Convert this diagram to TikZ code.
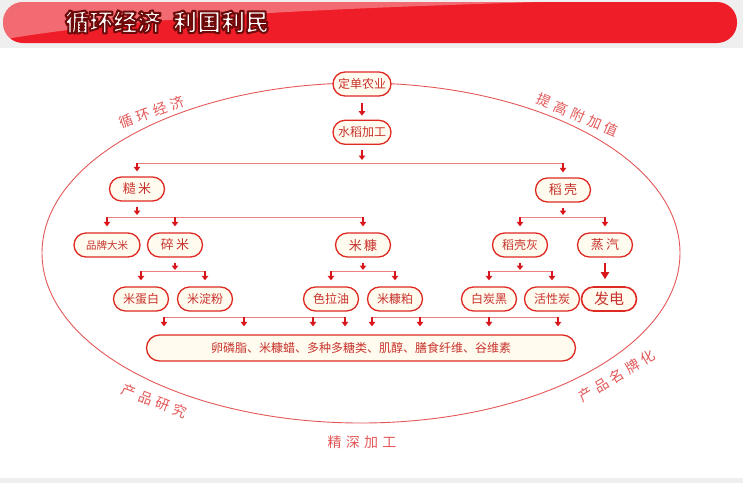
\documentclass[tikz,border=0pt]{standalone}
\usepackage{fontspec}
\setmainfont{Noto Sans CJK SC}
\newfontfamily\spaced[LetterSpace=30]{Noto Sans CJK SC}
\usetikzlibrary{arrows.meta,positioning,calc}

\definecolor{boxred}{HTML}{DE2A22}
\definecolor{textred}{HTML}{C8322C}
\definecolor{cream}{HTML}{FFFCEF}
\definecolor{arrowred}{HTML}{D8161C}
\definecolor{busred}{HTML}{EE8080}
\definecolor{ringred}{HTML}{E45858}
\definecolor{barred}{HTML}{EE1D27}
\definecolor{bandgray}{HTML}{EFEFEF}

% white letters with a dark red rim
\newcommand{\rimtext}[1]{\special{pdf:literal direct 2 Tr 2 w 1 j 0.43 0.04 0.04 RG}#1\special{pdf:literal direct 0 Tr}}

\begin{document}
\begin{tikzpicture}[x=1pt, y=-1pt,
  item/.style={draw=boxred, line width=1.3pt, fill=cream, rounded corners=12pt,
    minimum width=55pt, minimum height=24pt, inner sep=2pt, text=textred,
    font=\fontsize{12}{12}\selectfont},
  big/.style={item, font=\fontsize{13}{13}\selectfont},
  arr/.style={draw=arrowred, line width=1.5pt, -{Triangle[length=4.5pt,width=6.5pt]}},
  bus/.style={draw=busred, line width=1pt},
  arc label/.style={text=ringred, inner sep=0pt, font=\spaced\fontsize{14}{14}\selectfont},
  headline/.style={anchor=west, inner sep=0pt, font=\bfseries\fontsize{24}{24}\selectfont}
]
\useasboundingbox (0,0) rectangle (750,483);
\fill[white] (0,0) rectangle (750,483);

% header bar
\fill[bandgray] (0,0) rectangle (743,48);
\fill[barred, rounded corners=20pt] (3,2) rectangle (737,43);
\begin{scope}
  \clip[rounded corners=20pt] (3,2) rectangle (737,43);
  \fill[white, opacity=0.35] (0,0) -- (600,0) .. controls (420,6) and (160,12) .. (0,40) -- cycle;
\end{scope}
\node[headline, text=white] (head) at (65,22) {\rimtext{循环经济\hspace{12pt}利国利民}};
\fill[bandgray] (0,478) rectangle (743,483);

% ring
\draw[ringred, line width=0.9pt] (361,253) ellipse [x radius=319pt, y radius=170pt];
\node[arc label, rotate=20] (xh) at (152,112) {循环经济};
\node[arc label, rotate=-23] (tg) at (578,115) {提高附加值};
\node[arc label, rotate=-21] (yj) at (154,401) {产品研究};
\node[arc label, rotate=31] (mp) at (617,376) {产品名牌化};
\node[arc label] (sj) at (362,442) {精深加工};

% nodes
\node[item, minimum width=58pt] (dz) at (362,84) {定单农业};
\node[item, minimum width=58pt, below=23pt of dz] (sd) {水稻加工};
\node[big] (cm) at (137,189) {糙\,米};
\node[big] (dk) at (563,190) {稻\,壳};
\node[item, minimum width=66pt, font=\fontsize{10.5}{10.5}\selectfont] (pm) at (107,245) {品牌大米};
\node[big] (sm) at (175,245) {碎\,米};
\node[big] (mk) at (363,245) {米\,糠};
\node[item] (dh) at (520,245) {稻壳灰};
\node[big] (zq) at (605,245) {蒸\,汽};
\node[item] (db) at (141,299) {米蛋白};
\node[item] (df) at (205,299) {米淀粉};
\node[item] (sl) at (331,299) {色拉油};
\node[item] (mp2) at (395,299) {米糠粕};
\node[item] (bt) at (489,299) {白炭黑};
\node[item] (hx) at (552,299) {活性炭};
\node[item, font=\fontsize{15}{15}\selectfont, line width=1.6pt] (fd) at (609,299) {发电};
\node[item, minimum width=429pt, minimum height=26pt, rounded corners=13pt] (bot) at (361,348)
  {卵磷脂、米糠蜡、多种多糖类、肌醇、膳食纤维、谷维素};

% connectors
\draw[arr, shorten <=6pt, shorten >=4pt] (dz.south) -- (sd.north);

\coordinate (bus1) at (0,163);
\draw[bus] (cm.north |- bus1) -- (dk.north |- bus1);
\draw[arr, shorten <=5pt, shorten >=3pt] (sd.south) -- (sd.south |- bus1);
\foreach \n in {cm,dk}
  \draw[arr, shorten >=5pt] (\n.north |- bus1) -- (\n.north);

\coordinate (bus2) at (0,217);
\draw[bus] (pm.north |- bus2) -- (mk.north |- bus2);
\draw[bus] (dh.north |- bus2) -- (zq.north |- bus2);
\foreach \n in {cm,dk}
  \draw[arr, shorten <=5pt, shorten >=2pt] (\n.south) -- (\n.south |- bus2);
\foreach \n in {pm,sm,mk,dh,zq}
  \draw[arr, shorten >=6pt] (\n.north |- bus2) -- (\n.north);

\coordinate (bus3) at (0,271);
\draw[bus] (db.north |- bus3) -- (df.north |- bus3);
\draw[bus] (sl.north |- bus3) -- (mp2.north |- bus3);
\draw[bus] (bt.north |- bus3) -- (hx.north |- bus3);
\foreach \n in {sm,mk,dh}
  \draw[arr, shorten <=5pt, shorten >=1pt] (\n.south) -- (\n.south |- bus3);
\foreach \n in {db,df,sl,mp2,bt,hx}
  \draw[arr, shorten >=6pt] (\n.north |- bus3) -- (\n.north);
\draw[arr, line width=2pt, -{Triangle[length=7pt,width=8pt]}, shorten <=5pt, shorten >=7pt]
  (zq.south) -- (zq.south |- fd.north);

% collecting lines
\foreach \x in {164,244,313,345,372,420,489,558}
  \coordinate (d\x) at (\x,317);
\draw[bus] (d164) -- (d345);
\draw[bus] (d372) -- (d558);
\foreach \x in {164,244,313,345,372,420,489,558}
  \draw[arr, shorten >=8pt] (d\x) -- (d\x |- bot.north);
\end{tikzpicture}
\end{document}
